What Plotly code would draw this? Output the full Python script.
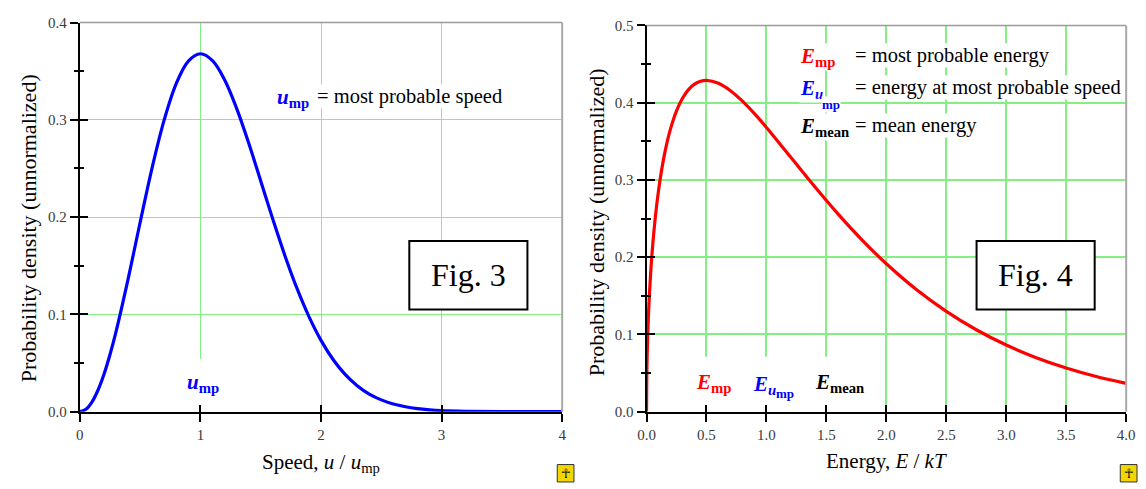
import plotly.graph_objects as go

W, H = 1146, 489

# ---------------- data ----------------
speed_u = [0.0, 0.05, 0.1, 0.15, 0.2, 0.25, 0.3, 0.4, 0.5, 0.6, 0.7, 0.8, 0.9, 1.0, 1.1,
           1.2, 1.3, 1.4, 1.5, 1.6, 1.7, 1.8, 1.9, 2.0, 2.1, 2.2, 2.3, 2.4, 2.5, 2.6, 2.7,
           2.8, 2.9, 3.0, 3.2, 3.5, 4.0]
speed_density = [0.0, 0.0025, 0.0099, 0.0220, 0.0384, 0.0587, 0.0823, 0.1363, 0.1947,
                 0.2512, 0.3002, 0.3375, 0.3604, 0.3679, 0.3608, 0.3412, 0.3118, 0.2761,
                 0.2371, 0.1979, 0.1606, 0.1269, 0.0977, 0.0733, 0.0536, 0.0383, 0.0267,
                 0.0181, 0.0121, 0.0078, 0.0050, 0.0031, 0.0019, 0.0011, 0.0004, 0.0001,
                 0.0]

energy_E = [0.0, 0.002, 0.005, 0.01, 0.02, 0.035, 0.05, 0.075, 0.1, 0.125, 0.15, 0.175,
            0.2, 0.25, 0.3, 0.35, 0.4, 0.45, 0.5, 0.6, 0.7, 0.8, 0.9, 1.0, 1.2, 1.4, 1.6,
            1.8, 2.0, 2.25, 2.5, 2.75, 3.0, 3.25, 3.5, 3.75, 4.0]
energy_density = [0.0, 0.0446, 0.0704, 0.0990, 0.1386, 0.1806, 0.2127, 0.2541, 0.2861,
                  0.3120, 0.3333, 0.3512, 0.3661, 0.3894, 0.4057, 0.4169, 0.4240, 0.4277,
                  0.4289, 0.4251, 0.4155, 0.4019, 0.3857, 0.3679, 0.3299, 0.2918, 0.2554,
                  0.2218, 0.1914, 0.1581, 0.1298, 0.1060, 0.0862, 0.0699, 0.0565, 0.0455,
                  0.0366]

speed_xticks = [0, 1, 2, 3, 4]
speed_xlabels = ["0", "1", "2", "3", "4"]
speed_yticks = [0.0, 0.1, 0.2, 0.3, 0.4]
energy_xticks = [0.0, 0.5, 1.0, 1.5, 2.0, 2.5, 3.0, 3.5, 4.0]
energy_yticks = [0.0, 0.1, 0.2, 0.3, 0.4, 0.5]

y_title = "Probability density (unnormalized)"
speed_title = "Speed, <i>u</i> / <i>u</i><sub>mp</sub>"
energy_title = "Energy, <i>E</i> / <i>kT</i>"

# ---------------- styling ----------------
FONT = "Liberation Serif, Times New Roman, serif"
GRID = "#84F084"
TICKFONT = dict(family=FONT, size=15, color="#3a3a3a")


def pxx(x):
    return x / W


def pyy(y):
    return 1 - y / H


L_X = [72, 562]
L_Y = [417.3, 15]
R_X = [647.7, 1135]
R_Y = [417.3, 18]

fig = go.Figure()
fig.add_trace(go.Scatter(x=speed_u, y=speed_density, mode="lines",
                         line=dict(color="#0000FF", width=3.2, shape="spline", smoothing=1.0),
                         xaxis="x", yaxis="y", showlegend=False, hoverinfo="skip"))
fig.add_trace(go.Scatter(x=energy_E, y=energy_density, mode="lines",
                         line=dict(color="#FF0000", width=3.2, shape="spline", smoothing=1.0),
                         xaxis="x2", yaxis="y2", showlegend=False, hoverinfo="skip"))
# empty traces that activate the overlay axes carrying the inner half of the ticks
fig.add_trace(go.Scatter(x=[], y=[], xaxis="x3", yaxis="y3", showlegend=False))
fig.add_trace(go.Scatter(x=[], y=[], xaxis="x4", yaxis="y4", showlegend=False))


def main_x(domain, tickvals, ticktext=None, fmt=None, gw=1):
    d = dict(domain=domain, range=[0, 4], tickvals=tickvals, ticks="outside", ticklen=8,
             tickwidth=2, tickcolor="black", showline=True, linecolor="black", linewidth=2,
             showgrid=True, gridcolor=GRID, gridwidth=gw, zeroline=False, tickfont=TICKFONT,
             fixedrange=True, ticklabeloverflow="allow")
    if ticktext:
        d["ticktext"] = ticktext
    if fmt:
        d["tickformat"] = fmt
    return d


def main_y(domain, yr, tickvals, gw=1):
    return dict(domain=domain, range=yr, tickvals=tickvals, tickformat=".1f", ticks="outside",
                ticklen=8, tickwidth=2, tickcolor="black", showline=True, linecolor="black",
                linewidth=2, showgrid=True, gridcolor=GRID, gridwidth=gw, zeroline=False,
                tickfont=TICKFONT, fixedrange=True, ticklabeloverflow="allow",
                minor=dict(dtick=0.05, tick0=0, ticks="outside", ticklen=4, tickwidth=2,
                           tickcolor="black", showgrid=False))


def over_x(over, anchor, tickvals):
    return dict(overlaying=over, anchor=anchor, range=[0, 4], tickvals=tickvals, ticks="inside",
                ticklen=7, tickwidth=2, tickcolor="black", showticklabels=False,
                showgrid=False, showline=False, zeroline=False, fixedrange=True)


def over_y(over, anchor, yr, tickvals):
    return dict(overlaying=over, anchor=anchor, range=yr, tickvals=tickvals, ticks="inside",
                ticklen=8, tickwidth=2, tickcolor="black", showticklabels=False,
                showgrid=False, showline=False, zeroline=False, fixedrange=True,
                minor=dict(dtick=0.05, tick0=0, ticks="inside", ticklen=4, tickwidth=2,
                           tickcolor="black", showgrid=False))


fig.update_layout(
    width=W, height=H, autosize=False,
    margin=dict(l=0, r=0, t=0, b=0),
    paper_bgcolor="white", plot_bgcolor="white",
    xaxis=main_x([pxx(L_X[0]), pxx(L_X[1])], speed_xticks, ticktext=speed_xlabels, gw=1.3) | dict(anchor="y"),
    yaxis=main_y([pyy(L_Y[0]), pyy(L_Y[1])], [0, 0.4], speed_yticks, gw=1.3) | dict(anchor="x"),
    xaxis2=main_x([pxx(R_X[0]), pxx(R_X[1])], energy_xticks, fmt=".1f", gw=1.8) | dict(anchor="y2"),
    yaxis2=main_y([pyy(R_Y[0]), pyy(R_Y[1])], [0, 0.5], energy_yticks, gw=1.8) | dict(anchor="x2"),
    xaxis3=over_x("x", "y3", speed_xticks),
    yaxis3=over_y("y", "x3", [0, 0.4], speed_yticks),
    xaxis4=over_x("x2", "y4", energy_xticks),
    yaxis4=over_y("y2", "x4", [0, 0.5], energy_yticks),
)

shapes = []
# gray top / right frame
for (x0, x1), (yb, yt) in [(L_X, L_Y), (R_X, R_Y)]:
    shapes.append(dict(type="line", xref="paper", yref="paper", x0=pxx(x0), x1=pxx(x1),
                       y0=pyy(yt), y1=pyy(yt), line=dict(color="#9a9a9a", width=1.5)))
    shapes.append(dict(type="line", xref="paper", yref="paper", x0=pxx(x1), x1=pxx(x1),
                       y0=pyy(yb), y1=pyy(yt), line=dict(color="#a8a8a8", width=2)))
# white patches hiding the grid behind the bottom labels
shapes.append(dict(type="rect", xref="x", yref="y", x0=0.8, x1=1.25, y0=0.001, y1=0.054,
                   fillcolor="white", line=dict(width=0), layer="between"))
shapes.append(dict(type="rect", xref="x2", yref="y2", x0=0.35, x1=1.8, y0=0.001, y1=0.071,
                   fillcolor="white", line=dict(width=0), layer="between"))
# figure number boxes
for x0, x1, y0, y1 in [(406.7, 526.7, 241, 311.7), (983, 1103, 241, 311.7)]:
    shapes.append(dict(type="rect", xref="paper", yref="paper", x0=pxx(x0), x1=pxx(x1),
                       y0=pyy(y1), y1=pyy(y0), fillcolor="white",
                       line=dict(color="black", width=2), layer="above"))
# small yellow icons
for x0 in [557, 1129]:
    shapes.append(dict(type="rect", xref="paper", yref="paper", x0=pxx(x0), x1=pxx(x0 + 17),
                       y0=pyy(490), y1=pyy(472), fillcolor="#F2D600",
                       line=dict(color="#333", width=1), layer="above"))
fig.update_layout(shapes=shapes)

ann = []


def A(text, x, y, xref, yref, size=20, color="black", xanchor="left", yanchor="middle",
      bg="white", angle=0):
    ann.append(dict(text=text, x=x, y=y, xref=xref, yref=yref, showarrow=False,
                    xanchor=xanchor, yanchor=yanchor, textangle=angle, bgcolor=bg,
                    borderpad=0, font=dict(family=FONT, size=size, color=color)))


# axis titles
A(y_title, pxx(20), pyy(228), "paper", "paper", size=22, xanchor="center", bg=None, angle=-90)
A(y_title, pxx(597), pyy(222), "paper", "paper", size=22, xanchor="center", bg=None, angle=-90)
A(speed_title, pxx(317), pyy(470), "paper", "paper", size=21, xanchor="center", bg=None)
A(energy_title, pxx(892), pyy(468), "paper", "paper", size=21, xanchor="center", bg=None)

# figure numbers and icons
A("Fig. 3", pxx(466.7), pyy(276), "paper", "paper", size=32, xanchor="center", bg=None)
A("Fig. 4", pxx(1043), pyy(276), "paper", "paper", size=32, xanchor="center", bg=None)
for x0 in [557, 1129]:
    A("☥", pxx(x0 + 8.5), pyy(481), "paper", "paper", size=13, xanchor="center", bg=None)

# left plot labels
A("<b><i>u</i><sub>mp</sub></b>", 1.63, 0.322, "x", "y", size=21, color="#0000FF")
A("= most probable speed", 1.957, 0.3235, "x", "y", size=20.5)
A("<b><i>u</i><sub>mp</sub></b>", 0.88, 0.029, "x", "y", size=21, color="#0000FF", bg=None)

# right plot legend
A("<b><i>E</i><sub>mp</sub></b>", 1.27, 0.459, "x2", "y2", size=21, color="#FF0000")
A("= most probable energy", 1.727, 0.4612, "x2", "y2", size=20.5)
A("<b><i>E</i><sub><i>u</i></sub></b>", 1.27, 0.418, "x2", "y2", size=21, color="#0000FF")
A("<b>mp</b>", 1.456, 0.3973, "x2", "y2", size=13, color="#0000FF")
A("= energy at most probable speed", 1.727, 0.4200, "x2", "y2", size=20.5)
A("<b><i>E</i><sub>mean</sub></b>", 1.27, 0.369, "x2", "y2", size=21, color="black")
A("= mean energy", 1.727, 0.3710, "x2", "y2", size=20.5)

# right plot bottom labels
A("<b><i>E</i><sub>mp</sub></b>", 0.405, 0.037, "x2", "y2", size=21, color="#FF0000", bg=None)
A("<b><i>E</i><sub><i>u</i></sub></b>", 0.881, 0.035, "x2", "y2", size=21, color="#0000FF", bg=None)
A("<b>mp</b>", 1.07, 0.024, "x2", "y2", size=13, color="#0000FF", bg=None)
A("<b><i>E</i><sub>mean</sub></b>", 1.398, 0.037, "x2", "y2", size=21, color="black", bg=None)

fig.update_layout(annotations=ann)

# pin the graph to the page's top-left corner so the 1146x489 window shows it 1:1
PIN = ("var gd=document.getElementById('{plot_id}');"
       "document.documentElement.style.margin='0';document.documentElement.style.overflow='hidden';"
       "document.body.style.margin='0';document.body.style.overflow='hidden';"
       "gd.style.position='fixed';gd.style.left='0px';gd.style.top='0px';")

fig.write_html("out.html", config={"displayModeBar": False}, post_script=PIN)
